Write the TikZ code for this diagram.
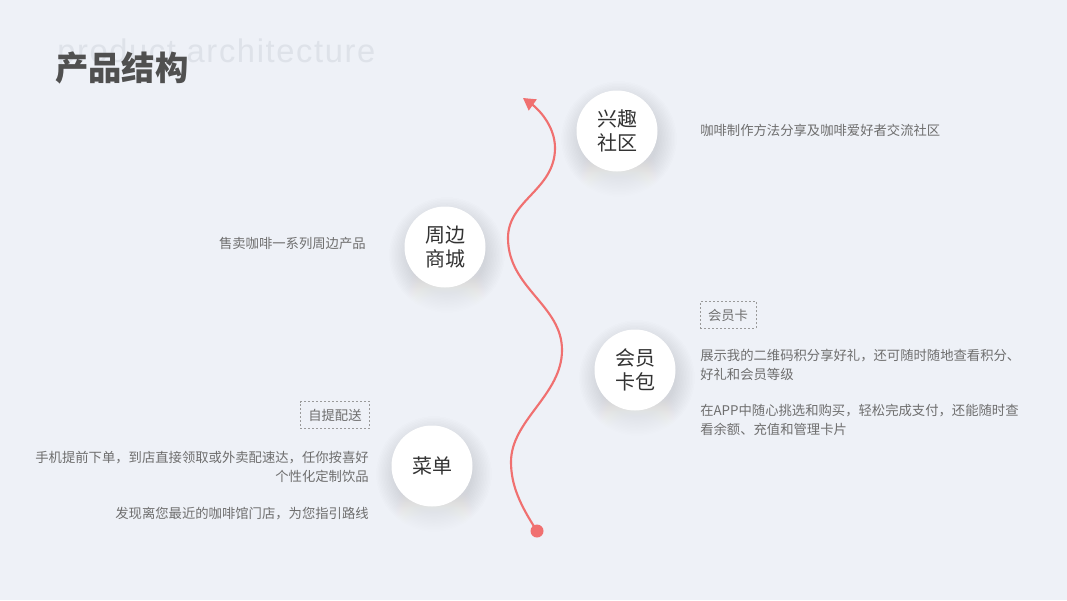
\documentclass[tikz,border=0pt]{standalone}
\usepackage{fontspec}
\setmainfont{Noto Sans CJK SC}
\newfontfamily\latinbg{Liberation Sans}[LetterSpace=5]
\usetikzlibrary{arrows.meta}
\definecolor{bg}{HTML}{EEF1F7}
\definecolor{coral}{HTML}{F07070}
\definecolor{body}{HTML}{6E6E6E}
\definecolor{dark}{HTML}{333333}
\definecolor{ghost}{HTML}{DEE2E9}
\definecolor{titlec}{HTML}{505050}
\definecolor{tagline}{HTML}{9A9A9A}
\definecolor{shade}{HTML}{8898B8}
\newcommand\softshadow[1]{%
  \foreach \i in {1,...,14}{\fill[shade, opacity=0.0045] ([xshift=1.5pt,yshift=-6pt]#1) circle[radius={28pt+\i*1.1pt}];}}
\begin{document}
\begin{tikzpicture}[x=0.75pt,y=-0.75pt,
  bubble/.style={circle, fill=white, minimum size=60.75pt, inner sep=0pt, align=center,
    font=\fontsize{15pt}{18pt}\selectfont, text=dark},
  desc/.style={font=\fontsize{10pt}{14.3pt}\selectfont, text=body, inner sep=0pt},
  tagbox/.style={desc, draw=tagline, dash pattern=on 1.5pt off 1.5pt, line width=0.6pt,
    inner xsep=6pt, minimum height=20pt},
  wave/.style={coral, line width=1.6pt}]
\fill[bg] (0,0) rectangle (1067,600);
\useasboundingbox (0,0) rectangle (1067,600);

% heading
\node[anchor=base west, inner sep=0pt, text=ghost, font=\latinbg\fontsize{24.5pt}{27pt}\selectfont] (ghosttxt) at (57,62) {product architecture};
\node[anchor=west, inner sep=0pt, text=titlec, font=\bfseries\fontsize{25pt}{28pt}\selectfont] (title) at (55,68) {产品结构};

% wave
\node[circle, fill=coral, minimum size=9.75pt, inner sep=0pt] (start) at (537,531) {};
\coordinate (tip) at (523,98);
\draw[wave, -{Triangle[length=9pt,width=10pt]}] (start.center)
  .. controls (520,505) and (511,485) .. (511,462)
  .. controls (511,420) and (562,395) .. (562,350)
  .. controls (562,305) and (508,288) .. (508,238)
  .. controls (508,200) and (555,190) .. (555,148)
  .. controls (555,125) and (537,108) .. (tip);

% bubble positions and shadows
\coordinate (pxq) at (617,131);
\coordinate (pzb) at (445,247);
\coordinate (phy) at (635,370);
\coordinate (pcd) at (432,466);
\softshadow{pxq}
\softshadow{pzb}
\softshadow{phy}
\softshadow{pcd}

% bubbles
\node[bubble] (xingqu) at (pxq) {兴趣\\社区};
\node[bubble] (zhoubian) at (pzb) {周边\\商城};
\node[bubble] (huiyuan) at (phy) {会员\\卡包};
\node[bubble] (caidan) at (pcd) {菜单};

% descriptions
\node[desc, anchor=west] (d1) at (700,130) {咖啡制作方法分享及咖啡爱好者交流社区};
\node[desc, anchor=east] (d2) at (366,243) {售卖咖啡一系列周边产品};

\node[tagbox] (t1) at (728,315) {会员卡};
\node[desc, anchor=west, align=left] (d3) at (700,364.5) {展示我的二维码积分享好礼，还可随时随地查看积分、\\好礼和会员等级};
\node[desc, anchor=west, align=left] (d4) at (700,419.5) {在APP中随心挑选和购买，轻松完成支付，还能随时查\\看余额、充值和管理卡片};

\node[tagbox, anchor=east] (t2) at (370,415) {自提配送};
\node[desc, anchor=east, align=right] (d5) at (369,467) {手机提前下单，到店直接领取或外卖配速达，任你按喜好\\个性化定制饮品};
\node[desc, anchor=east] (d6) at (369,514) {发现离您最近的咖啡馆门店，为您指引路线};
\end{tikzpicture}
\end{document}
